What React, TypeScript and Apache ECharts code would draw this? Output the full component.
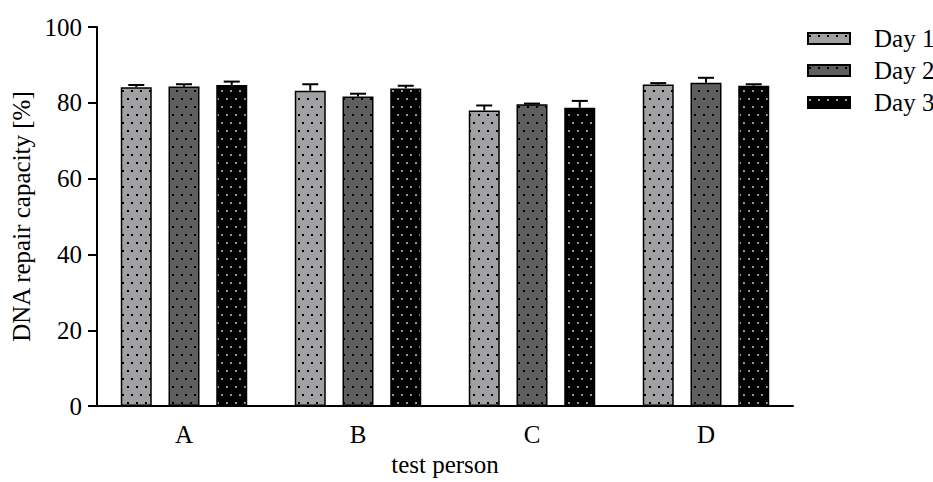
import React, { useEffect, useRef } from "react";
import * as echarts from "echarts";

const categories = ["A", "B", "C", "D"];
const seriesNames = ["Day 1", "Day 2", "Day 3"];
const day1 = [84.1, 83.2, 78.0, 84.8];
const day2 = [84.3, 81.7, 79.6, 85.3];
const day3 = [84.7, 83.8, 78.7, 84.5];
const day1Err = [0.6, 1.7, 1.3, 0.4];
const day2Err = [0.6, 0.7, 0.2, 1.3];
const day3Err = [0.9, 0.7, 1.8, 0.4];
const yTicks = [0, 20, 40, 60, 80, 100];

const FONT = "Liberation Serif";
const BAR_W = 31;
const BAR_GAP = 0.54;

function makePattern(bg: string, dot: string) {
  const c = document.createElement("canvas");
  c.width = 9;
  c.height = 16;
  const ctx = c.getContext("2d")!;
  ctx.fillStyle = bg;
  ctx.fillRect(0, 0, 9, 16);
  ctx.fillStyle = dot;
  ctx.fillRect(1, 2, 2, 2);
  ctx.fillRect(5, 10, 2, 2);
  return { image: c, repeat: "repeat", imageWidth: 9, imageHeight: 16 } as any;
}

export default function App() {
  const ref = useRef<HTMLDivElement>(null);
  useEffect(() => {
    if (!ref.current) return;
    const chart = echarts.init(ref.current, undefined, { renderer: "svg" });
    const fills = [
      makePattern("#a1a1a4", "#000000"),
      makePattern("#5f5f5f", "#000000"),
      makePattern("#000000", "#9a9a9a"),
    ];
    const values = [day1, day2, day3];
    const errs = [day1Err, day2Err, day3Err];
    const offsets = [-1, 0, 1].map((k) => k * BAR_W * (1 + BAR_GAP));

    const barSeries = values.map((vals, i) => ({
      name: seriesNames[i],
      type: "bar",
      data: vals,
      barWidth: BAR_W,
      barGap: `${BAR_GAP * 100}%`,
      itemStyle: { color: fills[i], borderColor: "#000", borderWidth: 1.5 },
      z: 2,
    }));

    const errSeries = values.map((vals, i) => ({
      name: seriesNames[i] + " err",
      type: "custom",
      z: 5,
      data: vals.map((v, j) => [j, v, errs[i][j]]),
      renderItem: (params: any, api: any) => {
        const c = api.value(0);
        const v = api.value(1);
        const e = api.value(2);
        const p0 = api.coord([c, v]);
        const p1 = api.coord([c, v + e]);
        const x = p0[0] + offsets[i];
        const half = 8;
        const style = { stroke: "#000", lineWidth: 2 };
        return {
          type: "group",
          children: [
            { type: "line", shape: { x1: x, y1: p0[1], x2: x, y2: p1[1] }, style },
            { type: "line", shape: { x1: x - half, y1: p1[1], x2: x + half, y2: p1[1] }, style },
          ],
        };
      },
    }));

    chart.setOption({
      animation: false,
      backgroundColor: "#ffffff",
      textStyle: { fontFamily: FONT, color: "#000" },
      grid: { left: 97, right: 140, top: 27, bottom: 70 },
      legend: {
        data: seriesNames,
        orient: "vertical",
        left: 802,
        top: 21,
        itemWidth: 42,
        itemHeight: 11,
        itemGap: 7,
        icon: "rect",
        textStyle: { fontFamily: FONT, fontSize: 25, color: "#000", padding: [0, 0, 0, 19] },
      },
      xAxis: {
        type: "category",
        data: categories,
        name: "test person",
        nameLocation: "middle",
        nameGap: 41,
        nameTextStyle: { fontFamily: FONT, fontSize: 25, color: "#000" },
        axisLine: { lineStyle: { color: "#000", width: 2 } },
        axisTick: { alignWithLabel: true, length: 11, lineStyle: { color: "#000", width: 2 } },
        axisLabel: { fontFamily: FONT, fontSize: 25, color: "#000", margin: 16 },
      },
      yAxis: {
        type: "value",
        min: yTicks[0],
        max: yTicks[yTicks.length - 1],
        interval: yTicks[1] - yTicks[0],
        name: "DNA repair capacity [%]",
        nameLocation: "middle",
        nameGap: 63,
        nameTextStyle: { fontFamily: FONT, fontSize: 25, color: "#000" },
        axisLine: { show: true, lineStyle: { color: "#000", width: 2 } },
        axisTick: { show: true, length: 9, lineStyle: { color: "#000", width: 2 } },
        axisLabel: { fontFamily: FONT, fontSize: 25, color: "#000", margin: 15 },
        splitLine: { show: false },
      },
      series: [...barSeries, ...errSeries],
    } as any);
    return () => chart.dispose();
  }, []);
  return (
    <div
      ref={ref}
      style={{ position: "fixed", left: 0, top: 0, width: 933, height: 482 }}
    />
  );
}
